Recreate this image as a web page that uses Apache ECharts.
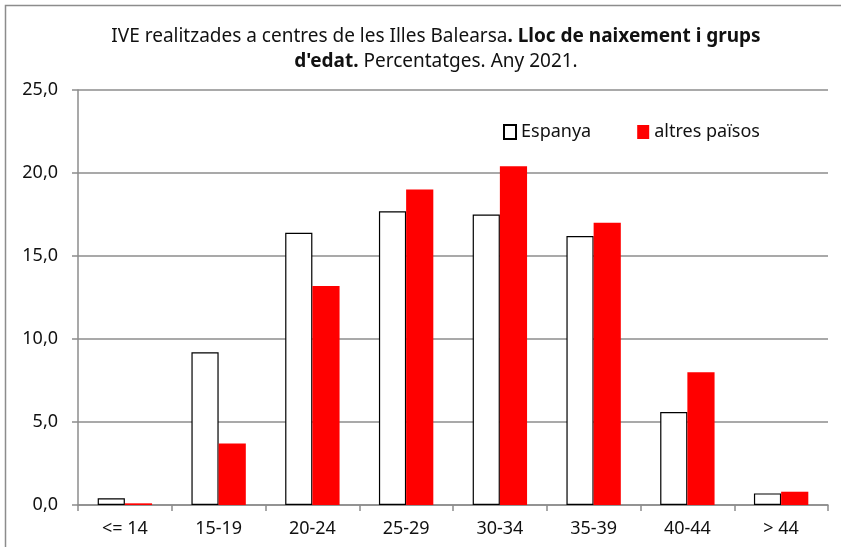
<!DOCTYPE html>
<html>
<head>
<meta charset="utf-8">
<script src="https://cdn.jsdelivr.net/npm/echarts@6/dist/echarts.min.js"></script>
<style>
    html, body { margin: 0; padding: 0; background: #fff; }
    #chart { width: 841px; height: 547px; }
</style>
</head>
<body>
<div id="chart"></div>
<script>
var categories = ['<= 14', '15-19', '20-24', '25-29', '30-34', '35-39', '40-44', '> 44'];
var espanya = [0.4, 9.2, 16.4, 17.7, 17.5, 16.2, 5.6, 0.7];
var altres = [0.1, 3.7, 13.2, 19.0, 20.4, 17.0, 8.0, 0.8];
var yTicks = [0, 5, 10, 15, 20, 25];

var chart = echarts.init(document.getElementById('chart'));
var font = 'Noto Sans';

var option = {
    backgroundColor: '#fff',
    animation: false,
    textStyle: { fontFamily: font },
    // outer frame (right and bottom edges fall outside the picture)
    graphic: [{
        type: 'rect',
        shape: { x: 5.5, y: 5.5, width: 1000, height: 800 },
        style: { fill: 'none', stroke: '#8c8c8c', lineWidth: 1.5 },
        silent: true
    }],
    title: {
        left: 431,
        top: 19,
        textAlign: 'center',
        text: '{a|IVE realitzades a centres de les Illes Balearsa}{b|. Lloc de naixement i grups}\n{b|d\'edat.}{a| Percentatges. Any 2021.}',
        textStyle: {
            fontWeight: 'normal',
            rich: {
                a: { fontFamily: font, fontSize: 19, fontWeight: 'normal', color: '#111', lineHeight: 25 },
                b: { fontFamily: font, fontSize: 19, fontWeight: 'bold', color: '#111', lineHeight: 25 }
            }
        }
    },
    legend: {
        left: 498,
        top: 118,
        icon: 'rect',
        itemWidth: 12,
        itemHeight: 14,
        itemGap: 46,
        textStyle: { fontFamily: font, fontSize: 18, color: '#111' },
        data: ['Espanya', 'altres països']
    },
    grid: { left: 78, right: 13, top: 90, bottom: 42, containLabel: false },
    xAxis: {
        type: 'category',
        data: categories,
        axisLine: { lineStyle: { color: '#8c8c8c', width: 1.5 } },
        axisTick: { show: true, length: 6, lineStyle: { color: '#8c8c8c', width: 1.5 } },
        axisLabel: { color: '#111', fontSize: 18, fontFamily: font, margin: 15 }
    },
    yAxis: {
        type: 'value',
        min: yTicks[0],
        max: yTicks[yTicks.length - 1],
        interval: 5,
        axisLine: { show: true, lineStyle: { color: '#8c8c8c', width: 1.5 } },
        axisTick: { show: true, inside: false, length: 6, lineStyle: { color: '#8c8c8c', width: 1.5 } },
        axisLabel: {
            color: '#111', fontSize: 18, fontFamily: font, margin: 20,
            formatter: function (v) { return v.toFixed(1).replace('.', ','); }
        },
        splitLine: { lineStyle: { color: '#8c8c8c', width: 1.5 } }
    },
    series: [{
        name: 'Espanya',
        type: 'bar',
        data: espanya,
        barGap: '0%',
        barCategoryGap: '42%',
        itemStyle: { color: '#fff', borderColor: '#000', borderWidth: 1.2 }
    }, {
        name: 'altres països',
        type: 'bar',
        data: altres,
        barGap: '0%',
        barCategoryGap: '42%',
        itemStyle: { color: '#ff0000' }
    }]
};
chart.setOption(option);
</script>
</body>
</html>
